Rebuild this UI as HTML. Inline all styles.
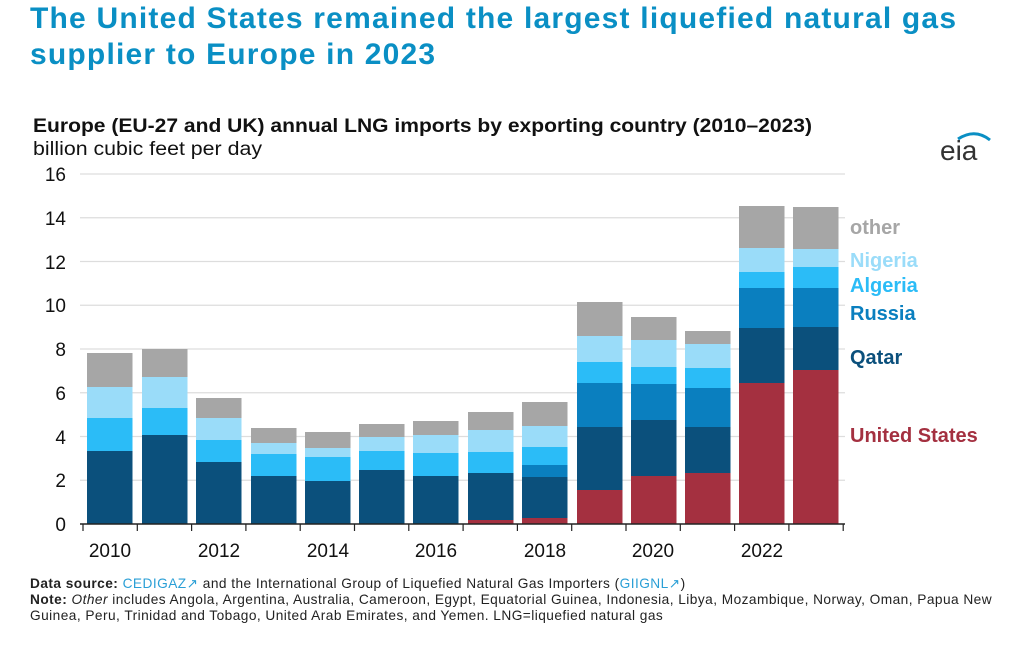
<!DOCTYPE html>
<html><head><meta charset="utf-8"><style>
body{margin:0;width:1024px;height:645px;background:#fff;font-family:"Liberation Sans",sans-serif;overflow:hidden;position:relative}
.t{position:absolute;left:30px;top:1px;font-size:30px;font-weight:bold;color:#0a8fc4;line-height:36px;letter-spacing:1.2px}
.foot{position:absolute;left:30px;top:576px;font-family:"Liberation Sans",sans-serif;font-size:13.7px;line-height:16px;color:#222;letter-spacing:0.45px}
.foot a{color:#2a9fd6;text-decoration:none}
</style></head><body>
<div class="t">The United States remained the largest liquefied natural gas<br>supplier to Europe in 2023</div>
<svg id="s" width="1024" height="645" style="position:absolute;left:0;top:0" font-family="Liberation Sans, sans-serif">
<text x="33" y="132" font-size="19" font-weight="bold" fill="#111" textLength="779" lengthAdjust="spacingAndGlyphs">Europe (EU-27 and UK) annual LNG imports by exporting country (2010–2023)</text>
<text x="33" y="155" font-size="19" fill="#111" textLength="229" lengthAdjust="spacingAndGlyphs">billion cubic feet per day</text>
<text x="940" y="160" font-size="28" fill="#333">eia</text>
<path d="M958 139 Q975 128 990 140" stroke="#0a8fc4" stroke-width="3" fill="none"/>
<g id="grid" stroke="#ddd" stroke-width="1.2"></g>
<g id="bars"></g>
<g font-size="19" fill="#111" text-anchor="end">
<text x="66" y="531">0</text><text x="66" y="487">2</text><text x="66" y="444">4</text><text x="66" y="400">6</text><text x="66" y="356">8</text><text x="66" y="312">10</text><text x="66" y="269">12</text><text x="66" y="225">14</text><text x="66" y="181">16</text>
</g>
<line x1="80" y1="524" x2="845" y2="524" stroke="#222" stroke-width="1.5"/>
<g id="ticks" stroke="#222" stroke-width="1.2"></g>
<g font-size="19" fill="#111" text-anchor="middle">
<text x="110" y="557">2010</text><text x="219" y="557">2012</text><text x="328" y="557">2014</text><text x="436" y="557">2016</text><text x="545" y="557">2018</text><text x="653" y="557">2020</text><text x="762" y="557">2022</text>
</g>
<g font-size="20" font-weight="bold">
<text x="850" y="234" fill="#a6a6a6">other</text>
<text x="850" y="267" fill="#9adcf9">Nigeria</text>
<text x="850" y="292" fill="#2bbcf7">Algeria</text>
<text x="850" y="320" fill="#0a7fbf">Russia</text>
<text x="850" y="364" fill="#0b507c">Qatar</text>
<text x="850" y="442" fill="#a43040">United States</text>
</g>
</svg>
<div class="foot"><b>Data source:</b> <a>CEDIGAZ↗</a> and the International Group of Liquefied Natural Gas Importers (<a>GIIGNL↗</a>)<br><b>Note:</b> <i>Other</i> includes Angola, Argentina, Australia, Cameroon, Egypt, Equatorial Guinea, Indonesia, Libya, Mozambique, Norway, Oman, Papua New<br>Guinea, Peru, Trinidad and Tobago, United Arab Emirates, and Yemen. LNG=liquefied natural gas</div>
<script>
var ns="http://www.w3.org/2000/svg";
function el(p,t,a){var e=document.createElementNS(ns,t);for(var k in a)e.setAttribute(k,a[k]);p.appendChild(e);}
var g=document.getElementById("grid");
for(var i=1;i<=8;i++){var y=524-i*43.75;el(g,"line",{x1:80,x2:845,y1:y,y2:y});}
var D=[
[87,[353,387,418,451,451,524]],
[142,[349,377,408,435,435,524]],
[196,[398,418,440,462,462,524]],
[251,[428,443,454,476,476,524]],
[305,[432,448,457,481,481,524]],
[359,[424,437,451,470,470,524]],
[413,[421,435,453,476,476,524]],
[468,[412,430,452,473,473,520]],
[522,[402,426,447,465,477,518]],
[577,[302,336,362,383,427,490]],
[631,[317,340,367,384,420,476]],
[685,[331,344,368,388,427,473]],
[739,[206,248,272,288,328,383]],
[793,[207,249,267,288,327,370]]];
var b=document.getElementById("bars");
D.forEach(function(d){var x=d[0],t=d[1];
var cols=["#a6a6a6","#9adcf9","#2bbcf7","#0a7fbf","#0b507c","#a43040"];
for(var j=0;j<6;j++){var y0=t[j],y1=(j<5?t[j+1]:524);if(y1>y0)el(b,"rect",{x:x,y:y0,width:45.5,height:y1-y0,fill:cols[j]});}
});
var tk=document.getElementById("ticks");
for(var i=0;i<=14;i++){var x=83+i*54.3;el(tk,"line",{x1:x,x2:x,y1:524,y2:531});}
</script>
</body></html>
